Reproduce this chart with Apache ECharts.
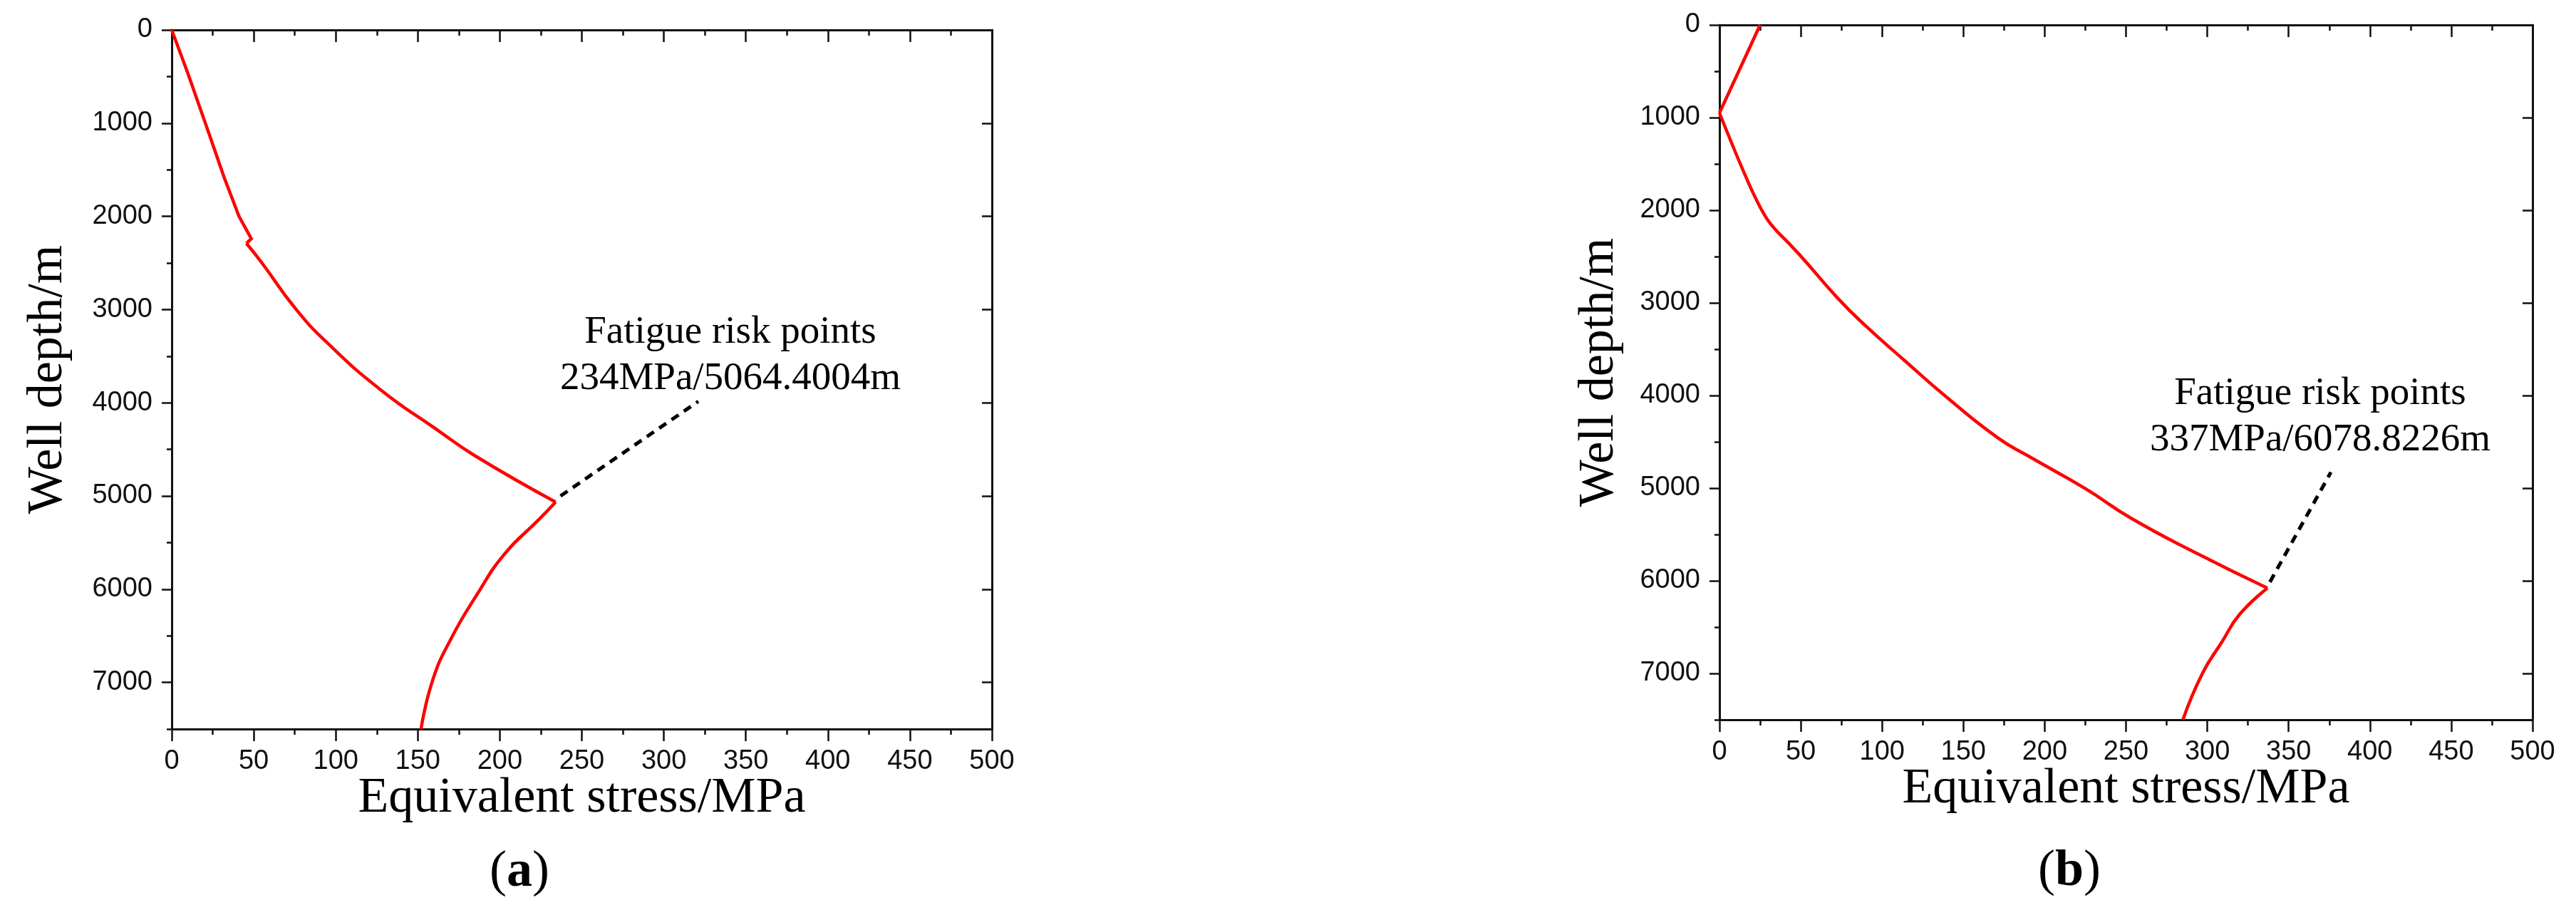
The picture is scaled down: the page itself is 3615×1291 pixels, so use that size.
<!DOCTYPE html>
<html>
<head>
<meta charset="utf-8">
<script src="https://cdn.jsdelivr.net/npm/echarts@6/dist/echarts.min.js"></script>
<style>
html,body{margin:0;padding:0;background:#fff;}
#c{width:3615px;height:1291px;}
</style>
</head>
<body>
<div id="c"></div>
<script>
// ---------- data (stress MPa, depth m) ----------
const xTicks = [0, 50, 100, 150, 200, 250, 300, 350, 400, 450, 500];
const yTicks = [0, 1000, 2000, 3000, 4000, 5000, 6000, 7000];
const yMax = 7500;
const xName = 'Equivalent stress/MPa';
const yName = 'Well depth/m';

// panel (a)
const aUpper  = [[0,0],[10,474],[22,1076],[32,1584],[41,2000],[48.5,2240],[45.5,2290]];
const aMiddle = [[45.5,2290],[55,2500],[75,2980],[95,3360],[128,3870],[161,4280],[185,4570],[234,5064.4]];
const aLower  = [[234,5064.4],[224,5250],[203,5620],[186,6060],[170,6540],[159,6980],[152,7500]];
const aRisk   = [[237,5000],[321,3985]];
const aLabel  = ['Fatigue risk points', '234MPa/5064.4004m'];

// panel (b)
const bUpper  = [[25,0],[0,950]];
const bMiddle = [[0,950],[18,1710],[28,2060],[36,2240]];
const bMain   = [[36,2240],[49,2476],[73,2955],[89.5,3242],[114,3625],[139,4008],[171,4455],[190,4654],[225,5005],[253,5323],[294,5708],[337,6078.8]];
const bLower  = [[337,6078.8],[320,6360],[309,6660],[297,7000],[285,7500]];
const bRisk   = [[338.5,6013],[376,4828]];
const bLabel  = ['Fatigue risk points', '337MPa/6078.8226m'];

// ---------- styling ----------
const AX = '#111';
const SERIF = "'Liberation Serif', 'Times New Roman', serif";
const SANS = "'Liberation Sans', Arial, sans-serif";
const xMin = xTicks[0], xMax = xTicks[xTicks.length-1], xInt = xTicks[1]-xTicks[0];
const yMin = yTicks[0], yInt = yTicks[1]-yTicks[0];

const grids = [
  {left: 241, top: 42, width: 1151, height: 981, containLabel:false, outerBoundsMode:'none'},
  {left: 2413, top: 35, width: 1141, height: 975, containLabel:false, outerBoundsMode:'none'}
];
const yGaps = [138, 133];
const plain = v => String(v);

const xAxes = [], yAxes = [];
grids.forEach((g, i) => {
  const line = {show:true, onZero:false, lineStyle:{color:AX, width:3}};
  xAxes.push({
    gridIndex:i, type:'value', position:'bottom', min:xMin, max:xMax, interval:xInt,
    axisLine:line,
    axisTick:{show:true, inside:false, length:17, lineStyle:{color:AX, width:2.5}},
    minorTick:{show:true, splitNumber:2, length:8, lineStyle:{color:AX, width:2.5}},
    axisLabel:{margin:27, fontSize:38, fontFamily:SANS, color:AX, formatter:plain},
    splitLine:{show:false}, minorSplitLine:{show:false},
    name:xName, nameLocation:'middle', nameGap:63, nameMoveOverlap:false,
    nameTextStyle:{fontFamily:SERIF, fontSize:70, lineHeight:70, color:'#000'}
  });
  xAxes.push({
    gridIndex:i, type:'value', position:'top', min:xMin, max:xMax, interval:xInt,
    axisLine:line,
    axisTick:{show:true, inside:true, length:17, lineStyle:{color:AX, width:2.5}},
    minorTick:{show:true, splitNumber:2, length:8, lineStyle:{color:AX, width:2.5}},
    axisLabel:{show:false}, splitLine:{show:false}
  });
  // left major
  yAxes.push({
    gridIndex:i, type:'value', position:'left', inverse:true, min:yMin, max:yMax, interval:yInt,
    axisLine:line,
    axisTick:{show:true, inside:false, length:14, lineStyle:{color:AX, width:2.5}},
    axisLabel:{margin:27, fontSize:38, fontFamily:SANS, color:AX, showMaxLabel:false, formatter:plain},
    splitLine:{show:false},
    name:yName, nameLocation:'middle', nameGap:yGaps[i], nameMoveOverlap:false,
    nameTextStyle:{fontFamily:SERIF, fontSize:70, lineHeight:70, color:'#000'}
  });
  // left minor
  yAxes.push({
    gridIndex:i, type:'value', position:'left', inverse:true, min:yMin, max:yMax, interval:yInt/2,
    axisLine:{show:false},
    axisTick:{show:true, inside:false, length:7, lineStyle:{color:AX, width:2.5}},
    axisLabel:{show:false}, splitLine:{show:false}
  });
  // right major
  yAxes.push({
    gridIndex:i, type:'value', position:'right', inverse:true, min:yMin, max:yMax, interval:yInt,
    axisLine:line,
    axisTick:{show:true, inside:true, length:14, lineStyle:{color:AX, width:2.5}},
    axisLabel:{show:false}, splitLine:{show:false}
  });
  // right minor
  yAxes.push({
    gridIndex:i, type:'value', position:'right', inverse:true, min:yMin, max:yMax, interval:yInt/2,
    axisLine:{show:false},
    axisTick:{show:true, inside:true, length:7, lineStyle:{color:AX, width:2.5}},
    axisLabel:{show:false}, splitLine:{show:false}
  });
});

function redLine(data, panel, smooth) {
  return {
    type:'line', data:data, xAxisIndex:panel*2, yAxisIndex:panel*4,
    showSymbol:false, symbol:'none', smooth:smooth,
    silent:true, lineStyle:{color:'#ff0000', width:4.5, join:'miter'}, z:3
  };
}
function riskLine(data, panel) {
  return {
    type:'line', data:data, xAxisIndex:panel*2, yAxisIndex:panel*4,
    showSymbol:false, symbol:'none', silent:true,
    lineStyle:{color:'#000', width:5, type:[12,9]}, z:2
  };
}

const series = [
  redLine(aUpper, 0, false),
  redLine(aMiddle, 0, 0.5),
  redLine(aLower, 0, 0.5),
  riskLine(aRisk, 0),
  redLine(bUpper, 1, false),
  redLine(bMiddle, 1, 0.4),
  redLine(bMain, 1, 0.5),
  redLine(bLower, 1, 0.5),
  riskLine(bRisk, 1)
];

function note(lines, x, y) {
  return {
    type:'text', x:x, y:y, silent:true,
    style:{
      text: lines.join('\n'), fill:'#000',
      font: "55px " + SERIF, fontSize:55, fontFamily:SERIF, lineHeight:65,
      align:'center', verticalAlign:'middle', textAlign:'center', textVerticalAlign:'middle'
    }
  };
}
function caption(letter, x, y) {
  return {
    type:'text', x:x, y:y, silent:true,
    style:{
      text: '{n|(}{b|' + letter + '}{n|)}',
      align:'center', verticalAlign:'middle', textAlign:'center', textVerticalAlign:'middle',
      rich:{
        n:{fontFamily:SERIF, fontSize:72, fill:'#000', color:'#000'},
        b:{fontFamily:SERIF, fontSize:72, fontWeight:'bold', fill:'#000', color:'#000'}
      }
    }
  };
}

const chart = echarts.init(document.getElementById('c'), null, {renderer:'canvas'});
chart.setOption({
  backgroundColor:'#fff',
  animation:false,
  grid:grids,
  xAxis:xAxes,
  yAxis:yAxes,
  series:series,
  graphic:[
    note(aLabel, 1025, 499),
    note(bLabel, 3256, 585),
    caption('a', 729, 1224),
    caption('b', 2904, 1223)
  ]
});
</script>
</body>
</html>
